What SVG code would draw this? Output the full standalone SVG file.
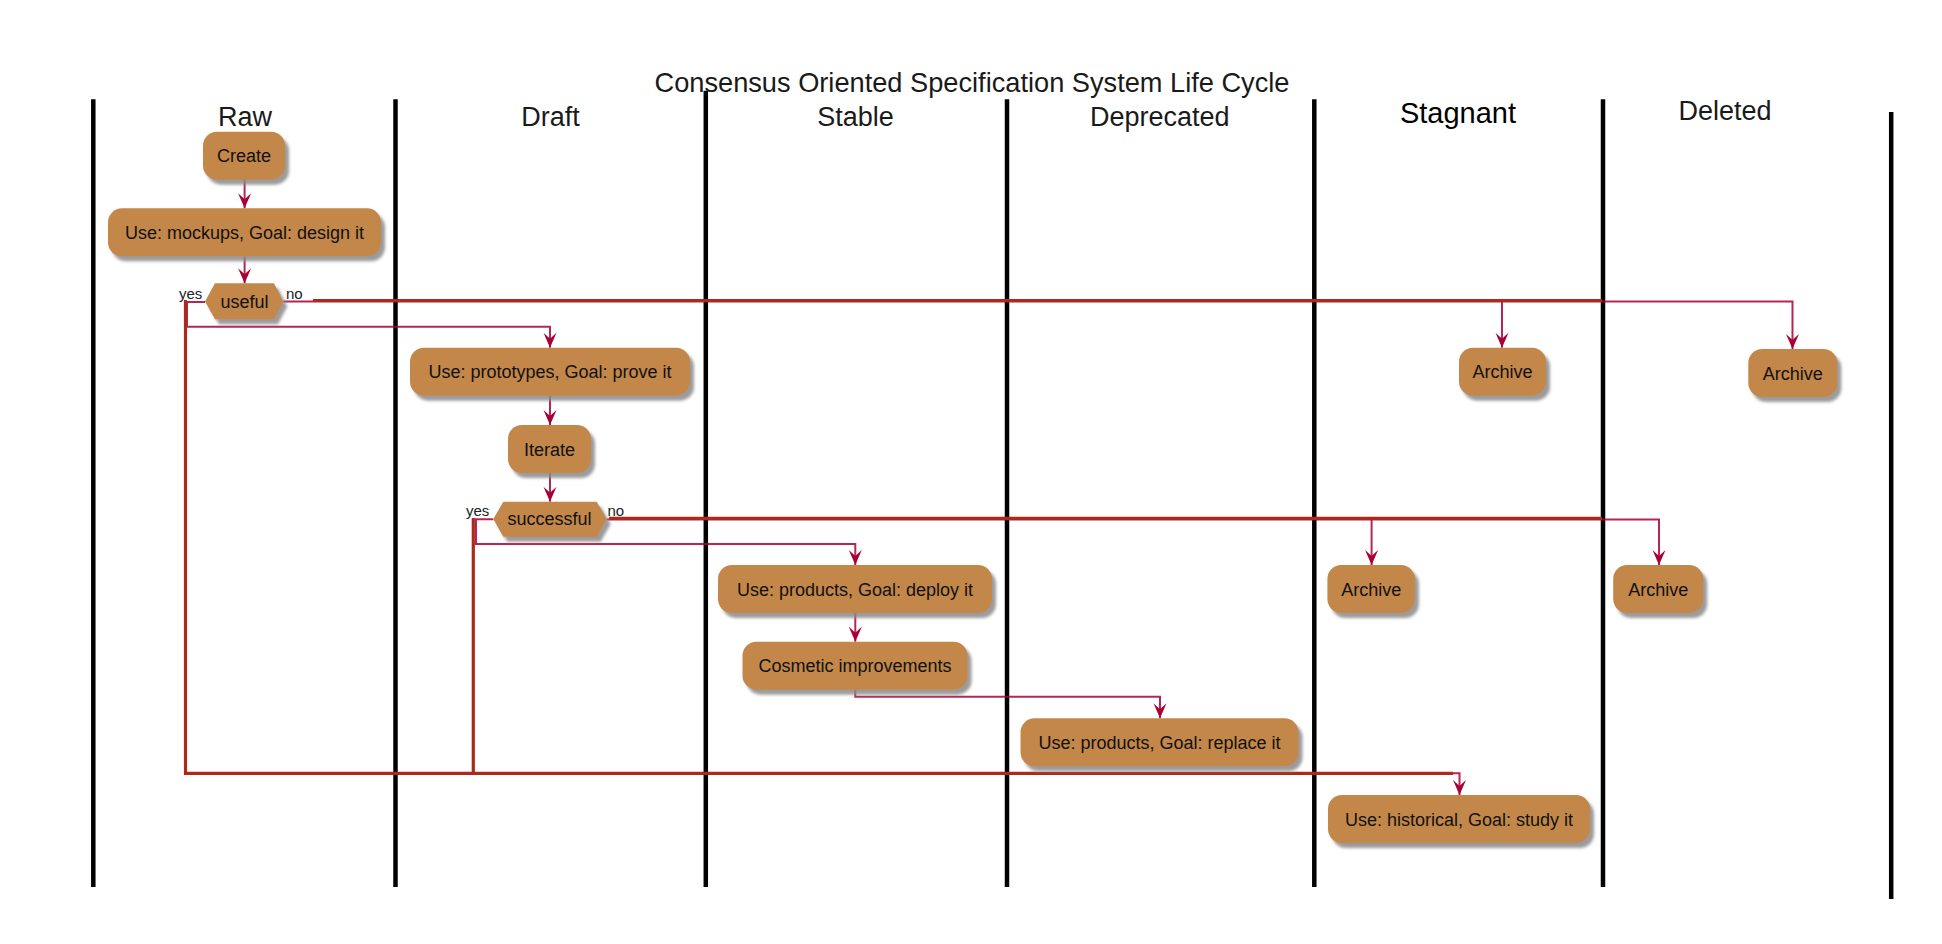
<svg xmlns="http://www.w3.org/2000/svg" width="1942" height="944" viewBox="0 0 1942 944">
<style>
.lane{stroke:#000;stroke-width:4.5;fill:none}
.lt{font-family:"Liberation Sans",Arial,sans-serif;font-size:27px;fill:#1a1a1a;text-anchor:middle}
.node rect,.node polygon{fill:#C38749;filter:url(#sh)}
.node text{font-family:"Liberation Sans",Arial,sans-serif;font-size:18px;fill:#111;text-anchor:middle}
.lbl{font-family:"Liberation Sans",Arial,sans-serif;font-size:15px;fill:#222}
.pk{stroke:#A80036;stroke-width:2;fill:none;stroke-opacity:0.85}
.rd{stroke:#AA2A1C;stroke-width:3.2;fill:none}
</style>
<defs>
<filter id="sh" x="-10%" y="-20%" width="130%" height="160%">
<feGaussianBlur in="SourceAlpha" stdDeviation="1.8"/>
<feOffset dx="4" dy="5" result="b"/>
<feFlood flood-color="#8a8a8a" flood-opacity="0.85"/>
<feComposite in2="b" operator="in"/>
<feMerge><feMergeNode/><feMergeNode in="SourceGraphic"/></feMerge>
</filter>
<marker id="arr" viewBox="-16 -8 17 16" refX="0" refY="0" markerWidth="17" markerHeight="16" markerUnits="userSpaceOnUse" orient="auto">
<path d="M-15,-6.5 L0,0 L-15,6.5 L-9,0 Z" fill="#A80036"/>
</marker>
</defs>
<rect width="1942" height="944" fill="#fff"/>
<text x="972" y="91.5" font-family="Liberation Sans,Arial,sans-serif" font-size="27.5" fill="#1a1a1a" text-anchor="middle" textLength="635" lengthAdjust="spacingAndGlyphs">Consensus Oriented Specification System Life Cycle</text>
<g id="lanes">
<line class="lane" x1="93.3" y1="99.3" x2="93.3" y2="887"/>
<line class="lane" x1="395.5" y1="99.3" x2="395.5" y2="887"/>
<line class="lane" x1="705.8" y1="90.7" x2="705.8" y2="887"/>
<line class="lane" x1="1007" y1="99.3" x2="1007" y2="887"/>
<line class="lane" x1="1314.3" y1="99.3" x2="1314.3" y2="887"/>
<line class="lane" x1="1603" y1="99.3" x2="1603" y2="887"/>
<line class="lane" x1="1891.2" y1="112" x2="1891.2" y2="899"/>
<text class="lt" x="245" y="126">Raw</text>
<text class="lt" x="550.5" y="126">Draft</text>
<text class="lt" x="855.6" y="126">Stable</text>
<text class="lt" x="1159.7" y="126">Deprecated</text>
<text x="1458" y="122.7" font-family="Liberation Sans,Arial,sans-serif" font-size="29" fill="#000" text-anchor="middle">Stagnant</text>
<text class="lt" x="1725" y="120">Deleted</text>
</g>
<g id="connectors">
<path class="pk" d="M244.6,179.3 V208.3" marker-end="url(#arr)"/>
<path class="pk" d="M244.6,256.7 V283.3" marker-end="url(#arr)"/>
<path class="pk" d="M205,302 H187 V326.7 H550 V347.7" marker-end="url(#arr)"/>
<path class="pk" d="M283.3,301.5 H1792.5 V349" marker-end="url(#arr)"/>
<path class="pk" d="M1502,301.5 V347.7" marker-end="url(#arr)"/>
<path class="pk" d="M550,395.7 V425" marker-end="url(#arr)"/>
<path class="pk" d="M550,473 V501.7" marker-end="url(#arr)"/>
<path class="pk" d="M493.3,519.3 H476 V544 H855.3 V565" marker-end="url(#arr)"/>
<path class="pk" d="M606.7,519.5 H1659 V565" marker-end="url(#arr)"/>
<path class="pk" d="M1371.6,519.5 V565" marker-end="url(#arr)"/>
<path class="pk" d="M855.3,613 V641.7" marker-end="url(#arr)"/>
<path class="pk" d="M855.3,689.7 V696.7 H1160 V718.3" marker-end="url(#arr)"/>
<path class="pk" d="M1452,773.3 H1459.5 V795" marker-end="url(#arr)"/>
<path class="rd" d="M313,300.5 H1602"/>
<path class="rd" d="M185.5,300 V773.3 H1453"/>
<path class="rd" d="M609,518.3 H1602"/>
<path class="rd" d="M473.3,518 V773.3"/>
</g>
<g id="n-create" class="node"><rect x="203" y="131.7" width="82" height="48" rx="14"/><text x="244" y="162">Create</text></g>
<g id="n-mockups" class="node"><rect x="108" y="208.3" width="273" height="48" rx="14"/><text x="244.5" y="238.8">Use: mockups, Goal: design it</text></g>
<g id="n-useful" class="node"><polygon points="205,301.5 215,283.3 274,283.3 283.3,301.5 274,319.3 215,319.3"/><text x="244.5" y="307.5">useful</text></g>
<text class="lbl" x="179" y="298.5">yes</text>
<text class="lbl" x="286" y="298.5">no</text>
<g id="n-prototypes" class="node"><rect x="410" y="347.7" width="280" height="48" rx="14"/><text x="550" y="378.2">Use: prototypes, Goal: prove it</text></g>
<g id="n-iterate" class="node"><rect x="508" y="425" width="83" height="48" rx="14"/><text x="549.5" y="455.5">Iterate</text></g>
<g id="n-successful" class="node"><polygon points="493.3,519 503.3,501.7 596.7,501.7 606.7,519 596.7,536.7 503.3,536.7"/><text x="549.5" y="525">successful</text></g>
<text class="lbl" x="466" y="515.5">yes</text>
<text class="lbl" x="607.5" y="515.5">no</text>
<g id="n-deploy" class="node"><rect x="718" y="565" width="274" height="48" rx="14"/><text x="855" y="595.5">Use: products, Goal: deploy it</text></g>
<g id="n-cosmetic" class="node"><rect x="742.5" y="641.7" width="225" height="48" rx="14"/><text x="855" y="672.2">Cosmetic improvements</text></g>
<g id="n-replace" class="node"><rect x="1020.5" y="718.3" width="278" height="48" rx="14"/><text x="1159.5" y="748.8">Use: products, Goal: replace it</text></g>
<g id="n-archive-stag1" class="node"><rect x="1459" y="347.7" width="87" height="48" rx="14"/><text x="1502.5" y="378.2">Archive</text></g>
<g id="n-archive-del1" class="node"><rect x="1748.3" y="349" width="89" height="48" rx="14"/><text x="1792.8" y="379.5">Archive</text></g>
<g id="n-archive-stag2" class="node"><rect x="1327.4" y="565" width="87.5" height="48" rx="14"/><text x="1371.2" y="595.5">Archive</text></g>
<g id="n-archive-del2" class="node"><rect x="1613.2" y="565" width="90" height="48" rx="14"/><text x="1658.2" y="595.5">Archive</text></g>
<g id="n-historical" class="node"><rect x="1328" y="795" width="262" height="48" rx="14"/><text x="1459" y="825.5">Use: historical, Goal: study it</text></g>
</svg>
